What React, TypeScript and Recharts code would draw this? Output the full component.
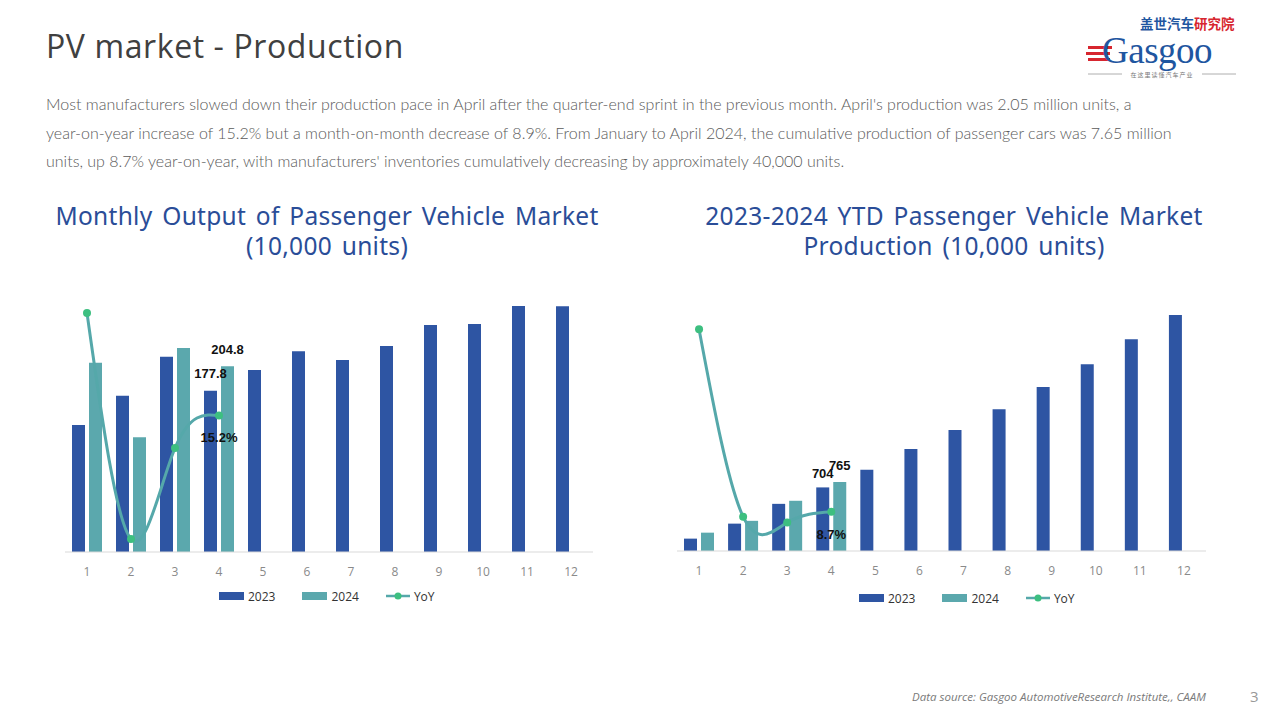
import { ComposedChart, Bar, Line, XAxis, YAxis, LabelList } from 'recharts';

const months = ['1', '2', '3', '4', '5', '6', '7', '8', '9', '10', '11', '12'];

// monthly output, 10,000 units
const monthly2023 = [140.2, 172.3, 215.4, 177.8, 200.6, 221.5, 211.7, 227.3, 250.4, 251.6, 271.2, 271.0];
const monthly2024 = [208.6, 126.7, 225.1, 204.8, null, null, null, null, null, null, null, null];
const monthlyYoY = [49.1, -25.7, 4.4, 15.2, null, null, null, null, null, null, null, null];

// year-to-date output, 10,000 units
const ytd2023 = [137, 303, 522, 704, 900, 1130, 1340, 1570, 1815, 2068, 2345, 2612];
const ytd2024 = [203, 334, 556, 765, null, null, null, null, null, null, null, null];
const ytdYoY = [49.1, 7.6, 6.3, 8.7, null, null, null, null, null, null, null, null];

const paragraph = [
  "Most manufacturers slowed down their production pace in April after the quarter-end sprint in the previous month. April's production was 2.05 million units, a",
  'year-on-year increase of 15.2% but a month-on-month decrease of 8.9%. From January to April 2024, the cumulative production of passenger cars was 7.65 million',
  "units, up 8.7% year-on-year, with manufacturers' inventories cumulatively decreasing by approximately 40,000 units.",
];

const monthlyData = months.map((m, i) => ({
  month: m,
  y2023: monthly2023[i],
  y2024: monthly2024[i],
  yoy: monthlyYoY[i],
}));

const ytdData = months.map((m, i) => ({
  month: m,
  y2023: ytd2023[i],
  y2024: ytd2024[i],
  yoy: ytdYoY[i],
}));

const BLUE = '#2E55A3';
const TEAL = '#5BA8AD';
const LINE = '#55A8AA';
const DOT = '#3DBF80';
const TITLE = '#2A4D98';

const labelIndex = 3; // April is the only labelled month

function valueLabel(dy: number, suffix = '') {
  return (props: any) => {
    const { x, y, width, value, index } = props;
    if (index !== labelIndex || value == null) return null;
    return (
      <text
        x={x + (width ? width / 2 : 0)}
        y={y + dy}
        textAnchor="middle"
        fontSize={13}
        fontWeight="bold"
        fontFamily="'Liberation Sans', Arial, sans-serif"
        fill="#111"
      >
        {value}
        {suffix}
      </text>
    );
  };
}

function ChartLegend({ left, top }: { left: number; top: number }) {
  const txt: React.CSSProperties = { fontSize: 12, color: '#333', fontFamily: "'Open Sans', sans-serif" };
  return (
    <div style={{ position: 'absolute', left, top, display: 'flex', alignItems: 'center', height: 14 }}>
      <span style={{ width: 25, height: 8, background: BLUE, display: 'inline-block' }} />
      <span style={{ ...txt, marginLeft: 4 }}>2023</span>
      <span style={{ width: 25, height: 8, background: TEAL, display: 'inline-block', marginLeft: 27 }} />
      <span style={{ ...txt, marginLeft: 4 }}>2024</span>
      <svg width={24} height={10} style={{ marginLeft: 27 }}>
        <line x1={0} y1={5} x2={24} y2={5} stroke={LINE} strokeWidth={2.5} />
        <circle cx={12} cy={5} r={3.5} fill={DOT} />
      </svg>
      <span style={{ ...txt, marginLeft: 4 }}>YoY</span>
    </div>
  );
}

const titleStyle: React.CSSProperties = {
  position: 'absolute',
  textAlign: 'center',
  color: TITLE,
  fontFamily: "'Noto Sans', 'Open Sans', sans-serif",
  fontSize: 24.5,
  lineHeight: '30px',
  letterSpacing: 0.3,
  wordSpacing: 3,
};

const tickStyle = { fontSize: 12, fill: '#8a8a8a', fontFamily: "'Open Sans', sans-serif" };

export default function App() {
  return (
    <div
      style={{
        position: 'absolute',
        left: 0,
        top: 0,
        width: 1280,
        height: 720,
        background: '#fff',
        overflow: 'hidden',
      }}
    >
      <div
        style={{
          position: 'absolute',
          left: 46,
          top: 24,
          fontSize: 32,
          color: '#404040',
          fontFamily: "'Open Sans', 'Noto Sans', sans-serif",
          letterSpacing: 0.6,
        }}
      >
        PV market - Production
      </div>

      {/* logo */}
      <svg width={160} height={74} style={{ position: 'absolute', left: 1084, top: 10 }}>
        <text x={56} y={19} fontSize={13.5} fontWeight="bold" fontFamily="'Noto Sans CJK SC', sans-serif" fill="#1f56a0">
          盖世汽车<tspan fill="#d7262f">研究院</tspan>
        </text>
        <rect x={4} y={36} width={24} height={3} fill="#d7262f" />
        <rect x={2} y={42} width={24} height={3} fill="#d7262f" />
        <rect x={4} y={48} width={22} height={3} fill="#d7262f" />
        <text x={18} y={53} fontSize={37} fontFamily="'Liberation Serif', serif" fill="#1f56a0" letterSpacing={-0.5}>
          Gasgoo
        </text>
        <line x1={4} y1={64} x2={38} y2={64} stroke="#999" strokeWidth={0.8} />
        <line x1={118} y1={64} x2={152} y2={64} stroke="#999" strokeWidth={0.8} />
        <text x={78} y={67} fontSize={6} textAnchor="middle" fontFamily="'Noto Sans CJK SC', sans-serif" fill="#777" letterSpacing={1}>
          在这里读懂汽车产业
        </text>
      </svg>

      <div
        style={{
          position: 'absolute',
          left: 46,
          top: 90,
          fontSize: 16,
          lineHeight: '28.5px',
          color: '#5a5a5a',
          fontFamily: "'Lato', 'Open Sans', sans-serif",
          fontWeight: 300,
          whiteSpace: 'nowrap',
        }}
      >
        {paragraph.map((line) => (
          <div key={line}>{line}</div>
        ))}
      </div>

      <div style={{ ...titleStyle, left: 27, width: 600, top: 201 }}>
        Monthly Output of Passenger Vehicle Market
        <br />
        (10,000 units)
      </div>
      <div style={{ ...titleStyle, left: 654, width: 600, top: 201 }}>
        2023-2024 YTD Passenger Vehicle Market
        <br />
        Production (10,000 units)
      </div>

      {/* left chart */}
      <div style={{ position: 'absolute', left: 0, top: 260 }}>
        <ComposedChart
          width={640}
          height={360}
          data={monthlyData}
          margin={{ top: 20, left: 65, right: 47, bottom: 38 }}
          barGap={4}
          barSize={13}
        >
          <XAxis
            dataKey="month"
            height={30}
            tickLine={false}
            axisLine={{ stroke: '#d9d9d9' }}
            tick={tickStyle}
            tickMargin={9}
          />
          <YAxis yAxisId="left" hide domain={[0, 300]} />
          <YAxis yAxisId="right" hide domain={[-30, 60]} orientation="right" />
          <Bar yAxisId="left" dataKey="y2023" fill={BLUE} isAnimationActive={false}>
            <LabelList dataKey="y2023" content={valueLabel(-13)} />
          </Bar>
          <Bar yAxisId="left" dataKey="y2024" fill={TEAL} isAnimationActive={false}>
            <LabelList dataKey="y2024" content={valueLabel(-12)} />
          </Bar>
          <Line
            yAxisId="right"
            dataKey="yoy"
            type="natural"
            stroke={LINE}
            strokeWidth={3}
            dot={{ r: 4, fill: DOT, stroke: DOT, strokeWidth: 0 }}
            isAnimationActive={false}
          >
            <LabelList dataKey="yoy" content={valueLabel(27, '%')} />
          </Line>
        </ComposedChart>
      </div>
      <ChartLegend left={219} top={589} />

      {/* right chart */}
      <div style={{ position: 'absolute', left: 640, top: 260 }}>
        <ComposedChart
          width={640}
          height={360}
          data={ytdData}
          margin={{ top: 20, left: 37, right: 74, bottom: 39 }}
          barGap={4}
          barSize={13}
        >
          <XAxis
            dataKey="month"
            height={30}
            tickLine={false}
            axisLine={{ stroke: '#d9d9d9' }}
            tick={tickStyle}
            tickMargin={9}
          />
          <YAxis yAxisId="left" hide domain={[0, 3000]} />
          <YAxis yAxisId="right" hide domain={[0, 60]} orientation="right" />
          <Bar yAxisId="left" dataKey="y2023" fill={BLUE} isAnimationActive={false}>
            <LabelList dataKey="y2023" content={valueLabel(-9)} />
          </Bar>
          <Bar yAxisId="left" dataKey="y2024" fill={TEAL} isAnimationActive={false}>
            <LabelList dataKey="y2024" content={valueLabel(-12)} />
          </Bar>
          <Line
            yAxisId="right"
            dataKey="yoy"
            type="natural"
            stroke={LINE}
            strokeWidth={3}
            dot={{ r: 4, fill: DOT, stroke: DOT, strokeWidth: 0 }}
            isAnimationActive={false}
          >
            <LabelList dataKey="yoy" content={valueLabel(27, '%')} />
          </Line>
        </ComposedChart>
      </div>
      <ChartLegend left={859} top={591} />

      <div
        style={{
          position: 'absolute',
          left: 912,
          top: 689,
          fontSize: 11.5,
          fontStyle: 'italic',
          color: '#7a7a7a',
          fontFamily: "'Open Sans', sans-serif",
        }}
      >
        Data source: Gasgoo AutomotiveResearch Institute,, CAAM
      </div>
      <div
        style={{
          position: 'absolute',
          left: 1250,
          top: 686,
          fontSize: 15,
          color: '#999',
          fontFamily: "'Open Sans', sans-serif",
        }}
      >
        3
      </div>
    </div>
  );
}
